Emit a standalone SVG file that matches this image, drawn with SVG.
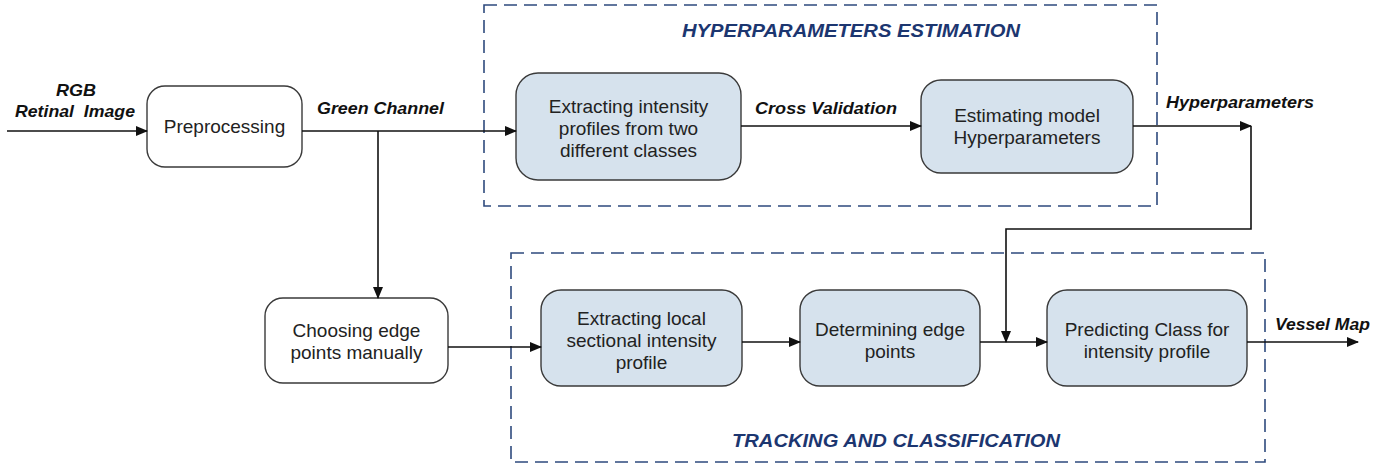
<svg xmlns="http://www.w3.org/2000/svg" width="1399" height="468" viewBox="0 0 1399 468">
<style>
.bg{fill:#ffffff}
.grp{fill:none;stroke:#2e4a7d;stroke-width:1.6;stroke-dasharray:13 7}
.box{stroke:#3a3a3a;stroke-width:1.4}
.w{fill:#ffffff}
.b{fill:#d6e2ed}
.t{font-family:"Liberation Sans",Arial,sans-serif;font-size:19px;fill:#222;text-anchor:middle}
.lbl{font-family:"Liberation Sans",Arial,sans-serif;font-size:16.5px;font-weight:bold;font-style:italic;fill:#111}
.ttl{font-family:"Liberation Sans",Arial,sans-serif;font-size:18.5px;font-weight:bold;font-style:italic;fill:#1c3670}
.c{fill:none;stroke:#111;stroke-width:1.6}
</style>
<defs>
<marker id="ah" markerWidth="12" markerHeight="10" refX="11" refY="5" orient="auto" markerUnits="userSpaceOnUse">
<path d="M0,0 L12,5 L0,10 Z" fill="#111"/>
</marker>
</defs>
<rect class="bg" x="0" y="0" width="1399" height="468"/>

<g id="group-hyper">
<rect class="grp" x="484" y="5" width="673" height="201"/>
<text class="ttl" x="682" y="37" textLength="338" lengthAdjust="spacingAndGlyphs">HYPERPARAMETERS ESTIMATION</text>
</g>
<g id="group-tracking">
<rect class="grp" x="511" y="253" width="754" height="209"/>
<text class="ttl" x="732" y="447" textLength="328" lengthAdjust="spacingAndGlyphs">TRACKING AND CLASSIFICATION</text>
</g>

<g id="node-preprocessing">
<rect class="box w" x="147" y="86" width="155" height="81" rx="18"/>
<text class="t" x="224.5" y="133">Preprocessing</text>
</g>
<g id="node-extract-two">
<rect class="box b" x="516" y="73" width="225" height="107" rx="22"/>
<text class="t" x="628.5" y="113">Extracting intensity</text>
<text class="t" x="628.5" y="135">profiles from two</text>
<text class="t" x="628.5" y="157">different classes</text>
</g>
<g id="node-estimating">
<rect class="box b" x="921" y="80" width="212" height="93" rx="20"/>
<text class="t" x="1027" y="122">Estimating model</text>
<text class="t" x="1027" y="144">Hyperparameters</text>
</g>
<g id="node-choosing">
<rect class="box w" x="265" y="298" width="183" height="85" rx="18"/>
<text class="t" x="356.5" y="337">Choosing edge</text>
<text class="t" x="356.5" y="359">points manually</text>
</g>
<g id="node-extract-local">
<rect class="box b" x="541" y="290" width="201" height="96" rx="20"/>
<text class="t" x="641.5" y="325">Extracting local</text>
<text class="t" x="641.5" y="347">sectional intensity</text>
<text class="t" x="641.5" y="369">profile</text>
</g>
<g id="node-determining">
<rect class="box b" x="800" y="290" width="180" height="96" rx="20"/>
<text class="t" x="890" y="336">Determining edge</text>
<text class="t" x="890" y="358">points</text>
</g>
<g id="node-predicting">
<rect class="box b" x="1047" y="290" width="200" height="96" rx="20"/>
<text class="t" x="1147" y="336">Predicting Class for</text>
<text class="t" x="1147" y="358">intensity profile</text>
</g>

<g id="connectors">
<line class="c" x1="7" y1="131" x2="147" y2="131" marker-end="url(#ah)"/>
<line class="c" x1="302" y1="131" x2="516" y2="131" marker-end="url(#ah)"/>
<line class="c" x1="378" y1="131" x2="378" y2="298" marker-end="url(#ah)"/>
<line class="c" x1="741" y1="126" x2="921" y2="126" marker-end="url(#ah)"/>
<line class="c" x1="1133" y1="126" x2="1251" y2="126" marker-end="url(#ah)"/>
<polyline class="c" points="1251,126 1251,229 1006,229 1006,342" marker-end="url(#ah)"/>
<line class="c" x1="448" y1="347" x2="541" y2="347" marker-end="url(#ah)"/>
<line class="c" x1="742" y1="342" x2="800" y2="342" marker-end="url(#ah)"/>
<line class="c" x1="980" y1="342" x2="1047" y2="342" marker-end="url(#ah)"/>
<line class="c" x1="1247" y1="342" x2="1358" y2="342" marker-end="url(#ah)"/>
<text class="lbl" x="56" y="96" textLength="40" lengthAdjust="spacingAndGlyphs">RGB</text>
<text class="lbl" x="15" y="117" textLength="120" lengthAdjust="spacingAndGlyphs" xml:space="preserve" style="white-space:pre">Retinal  Image</text>
<text class="lbl" x="317" y="114" textLength="127" lengthAdjust="spacingAndGlyphs">Green Channel</text>
<text class="lbl" x="755" y="114" textLength="142" lengthAdjust="spacingAndGlyphs">Cross Validation</text>
<text class="lbl" x="1166" y="108" textLength="148" lengthAdjust="spacingAndGlyphs">Hyperparameters</text>
<text class="lbl" x="1275" y="330" textLength="95" lengthAdjust="spacingAndGlyphs">Vessel Map</text>
</g>
</svg>
